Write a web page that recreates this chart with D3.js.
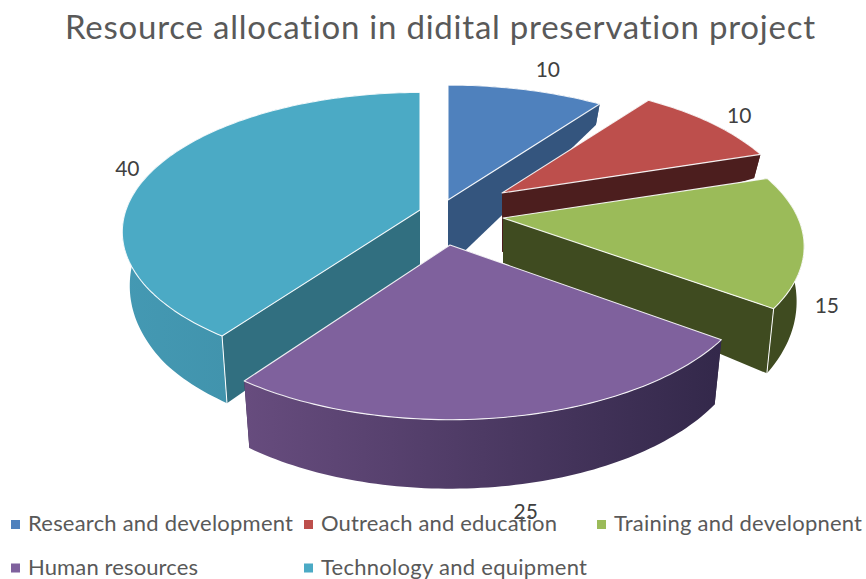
<!DOCTYPE html>
<html>
<head>
<meta charset="utf-8">
<script src="https://cdnjs.cloudflare.com/ajax/libs/d3/7.8.5/d3.min.js"></script>
<style>
  html, body { margin: 0; padding: 0; background: #fff; }
  svg { display: block; }
  text { font-family: Lato, "Open Sans", sans-serif; font-variant-ligatures: none; }
</style>
</head>
<body>
<div id="chart"></div>
<script>
const categories = ['Research and development', 'Outreach and education', 'Training and developnent', 'Human resources', 'Technology and equipment'];
const values = [10, 10, 15, 25, 40];
const titleText = 'Resource allocation in didital preservation project';

const width = 866, height = 579;

// Per-slice look, in category order
const topColors = ['#4f81bd', '#bd4f4c', '#9bbb59', '#7f619d', '#4baac5'];
const wallColors = ['#34557e', '#4c1e1e', '#3f4b20', '#352a48', '#316f80'];
const rimStops = [['#34557e', '#34557e'], ['#4c1e1e', '#4c1e1e'], ['#3f4b20', '#3f4b20'], ['#674c7e', '#33284a'], ['#4499b3', '#3c8aa2']];

// Where each pulled-out slice ended up (Excel lets each one move on its own)
const centerX = 445, centerY = 222;
const pullX = [3, 57, 58, 5, -25];
const pullY = [-22, -29, -4, 23, -12];
const apexDepth = [67, 59, 45, 60, 60];
const labelShiftX = [22, 28, 23, 19, -26];
const labelShiftY = [-20, -7, 66, 95, -1];

// Perspective of the disc, slightly different for each slice
const radiusX = [300, 288, 295, 302, 294];
const radiusY = [138, 132.5, 136, 145, 136];
const persp = [0.201, 0.193, 0.201, 0.17, 0.157];
const rimDepth = d3.scaleLinear().domain([-1, -0.3, 0, 0.6, 1]).range([20, 24, 50, 65, 69]);

const svg = d3.select('#chart').append('svg')
    .attr('width', width)
    .attr('height', height);

const defs = svg.append('defs');

const pie = d3.pie().sort(null).startAngle(0).endAngle(2 * Math.PI);
const arcs = pie(values);

function project(i, angle, r, isBottom) {
    const X = r * Math.sin(angle);
    const Y = -r * Math.cos(angle);
    const w = 1 - persp[i] * Y;
    const sx = radiusX[i] * X / w;
    const sy = radiusY[i] * Y / w;
    const ax = centerX + pullX[i];
    const ay = centerY + pullY[i];
    if (!isBottom) return [ax + sx, ay + sy];
    const depth = apexDepth[i] + (rimDepth(-Math.cos(angle)) - apexDepth[i]) * r;
    return [ax + sx * 0.975, ay + sy + depth];
}

function arcPoints(i, a0, a1, isBottom) {
    const n = Math.max(2, Math.ceil(Math.abs(a1 - a0) / 0.02));
    return d3.range(n + 1).map(k => project(i, a0 + (a1 - a0) * k / n, 1, isBottom));
}

const path = d3.line();

// Back slices first, front slices cover them
const drawOrder = [0, 1, 4, 2, 3];

drawOrder.forEach(i => {
    const a = arcs[i];
    const g = svg.append('g').attr('class', 'slice');

    // Radial walls
    [a.startAngle, a.endAngle].forEach(angle => {
        g.append('path')
            .attr('d', path([
                project(i, angle, 0, false),
                project(i, angle, 1, false),
                project(i, angle, 1, true),
                project(i, angle, 0, true)
            ]) + 'Z')
            .attr('fill', wallColors[i]);
    });

    // Outer rim with its shading
    const topArc = arcPoints(i, a.startAngle, a.endAngle, false);
    const bottomArc = arcPoints(i, a.endAngle, a.startAngle, true);
    const xs = topArc.map(d => d[0]);
    const gradId = 'rim' + i;
    const grad = defs.append('linearGradient')
        .attr('id', gradId)
        .attr('gradientUnits', 'userSpaceOnUse')
        .attr('x1', d3.min(xs)).attr('x2', d3.max(xs))
        .attr('y1', 0).attr('y2', 0);
    grad.append('stop').attr('offset', 0).attr('stop-color', rimStops[i][0]);
    grad.append('stop').attr('offset', 1).attr('stop-color', rimStops[i][1]);

    g.append('path')
        .attr('d', path(topArc.concat(bottomArc)) + 'Z')
        .attr('fill', `url(#${gradId})`);

    // White line down the corners that face the viewer
    [a.startAngle, a.endAngle].forEach(angle => {
        if (i === 3 || Math.cos(angle) >= -0.1) return;
        g.append('path')
            .attr('d', path([project(i, angle, 1, false), project(i, angle, 1, true)]))
            .attr('stroke', '#fff')
            .attr('stroke-width', 1)
            .attr('fill', 'none');
    });

    // Top face
    g.append('path')
        .attr('d', path([project(i, a.startAngle, 0, false)].concat(topArc)) + 'Z')
        .attr('fill', topColors[i])
        .attr('stroke', '#fff')
        .attr('stroke-width', 1.1)
        .attr('stroke-opacity', 0.9)
        .attr('stroke-linejoin', 'round');
});

// Title
svg.append('text')
    .attr('x', 65)
    .attr('y', 39)
    .attr('font-size', 33)
    .attr('fill', '#595959')
    .attr('textLength', 750)
    .attr('lengthAdjust', 'spacing')
    .text(titleText);

// Data labels
svg.append('g').selectAll('text')
    .data(arcs).enter()
    .append('text')
    .attr('x', (d, i) => project(i, (d.startAngle + d.endAngle) / 2, 1, false)[0] + labelShiftX[i])
    .attr('y', (d, i) => project(i, (d.startAngle + d.endAngle) / 2, 1, false)[1] + labelShiftY[i])
    .attr('dy', '.35em')
    .attr('text-anchor', 'middle')
    .attr('font-size', 21)
    .attr('fill', '#404040')
    .text(d => d.value);

// Legend, three per row
const legendX = [11, 304, 597];
const legendY = [531, 574.5];
const legendWidths = [265, 236, 248, 170, 266];

const legend = svg.append('g').selectAll('g')
    .data(categories).enter()
    .append('g')
    .attr('transform', (d, i) => `translate(${legendX[i % 3]}, ${legendY[Math.floor(i / 3)]})`);

legend.append('rect')
    .attr('x', 0)
    .attr('y', -11)
    .attr('width', 9)
    .attr('height', 9)
    .attr('fill', (d, i) => topColors[i]);

legend.append('text')
    .attr('x', 17)
    .attr('font-size', 22)
    .attr('fill', '#595959')
    .attr('textLength', (d, i) => legendWidths[i])
    .attr('lengthAdjust', 'spacing')
    .text(d => d);
</script>
</body>
</html>
